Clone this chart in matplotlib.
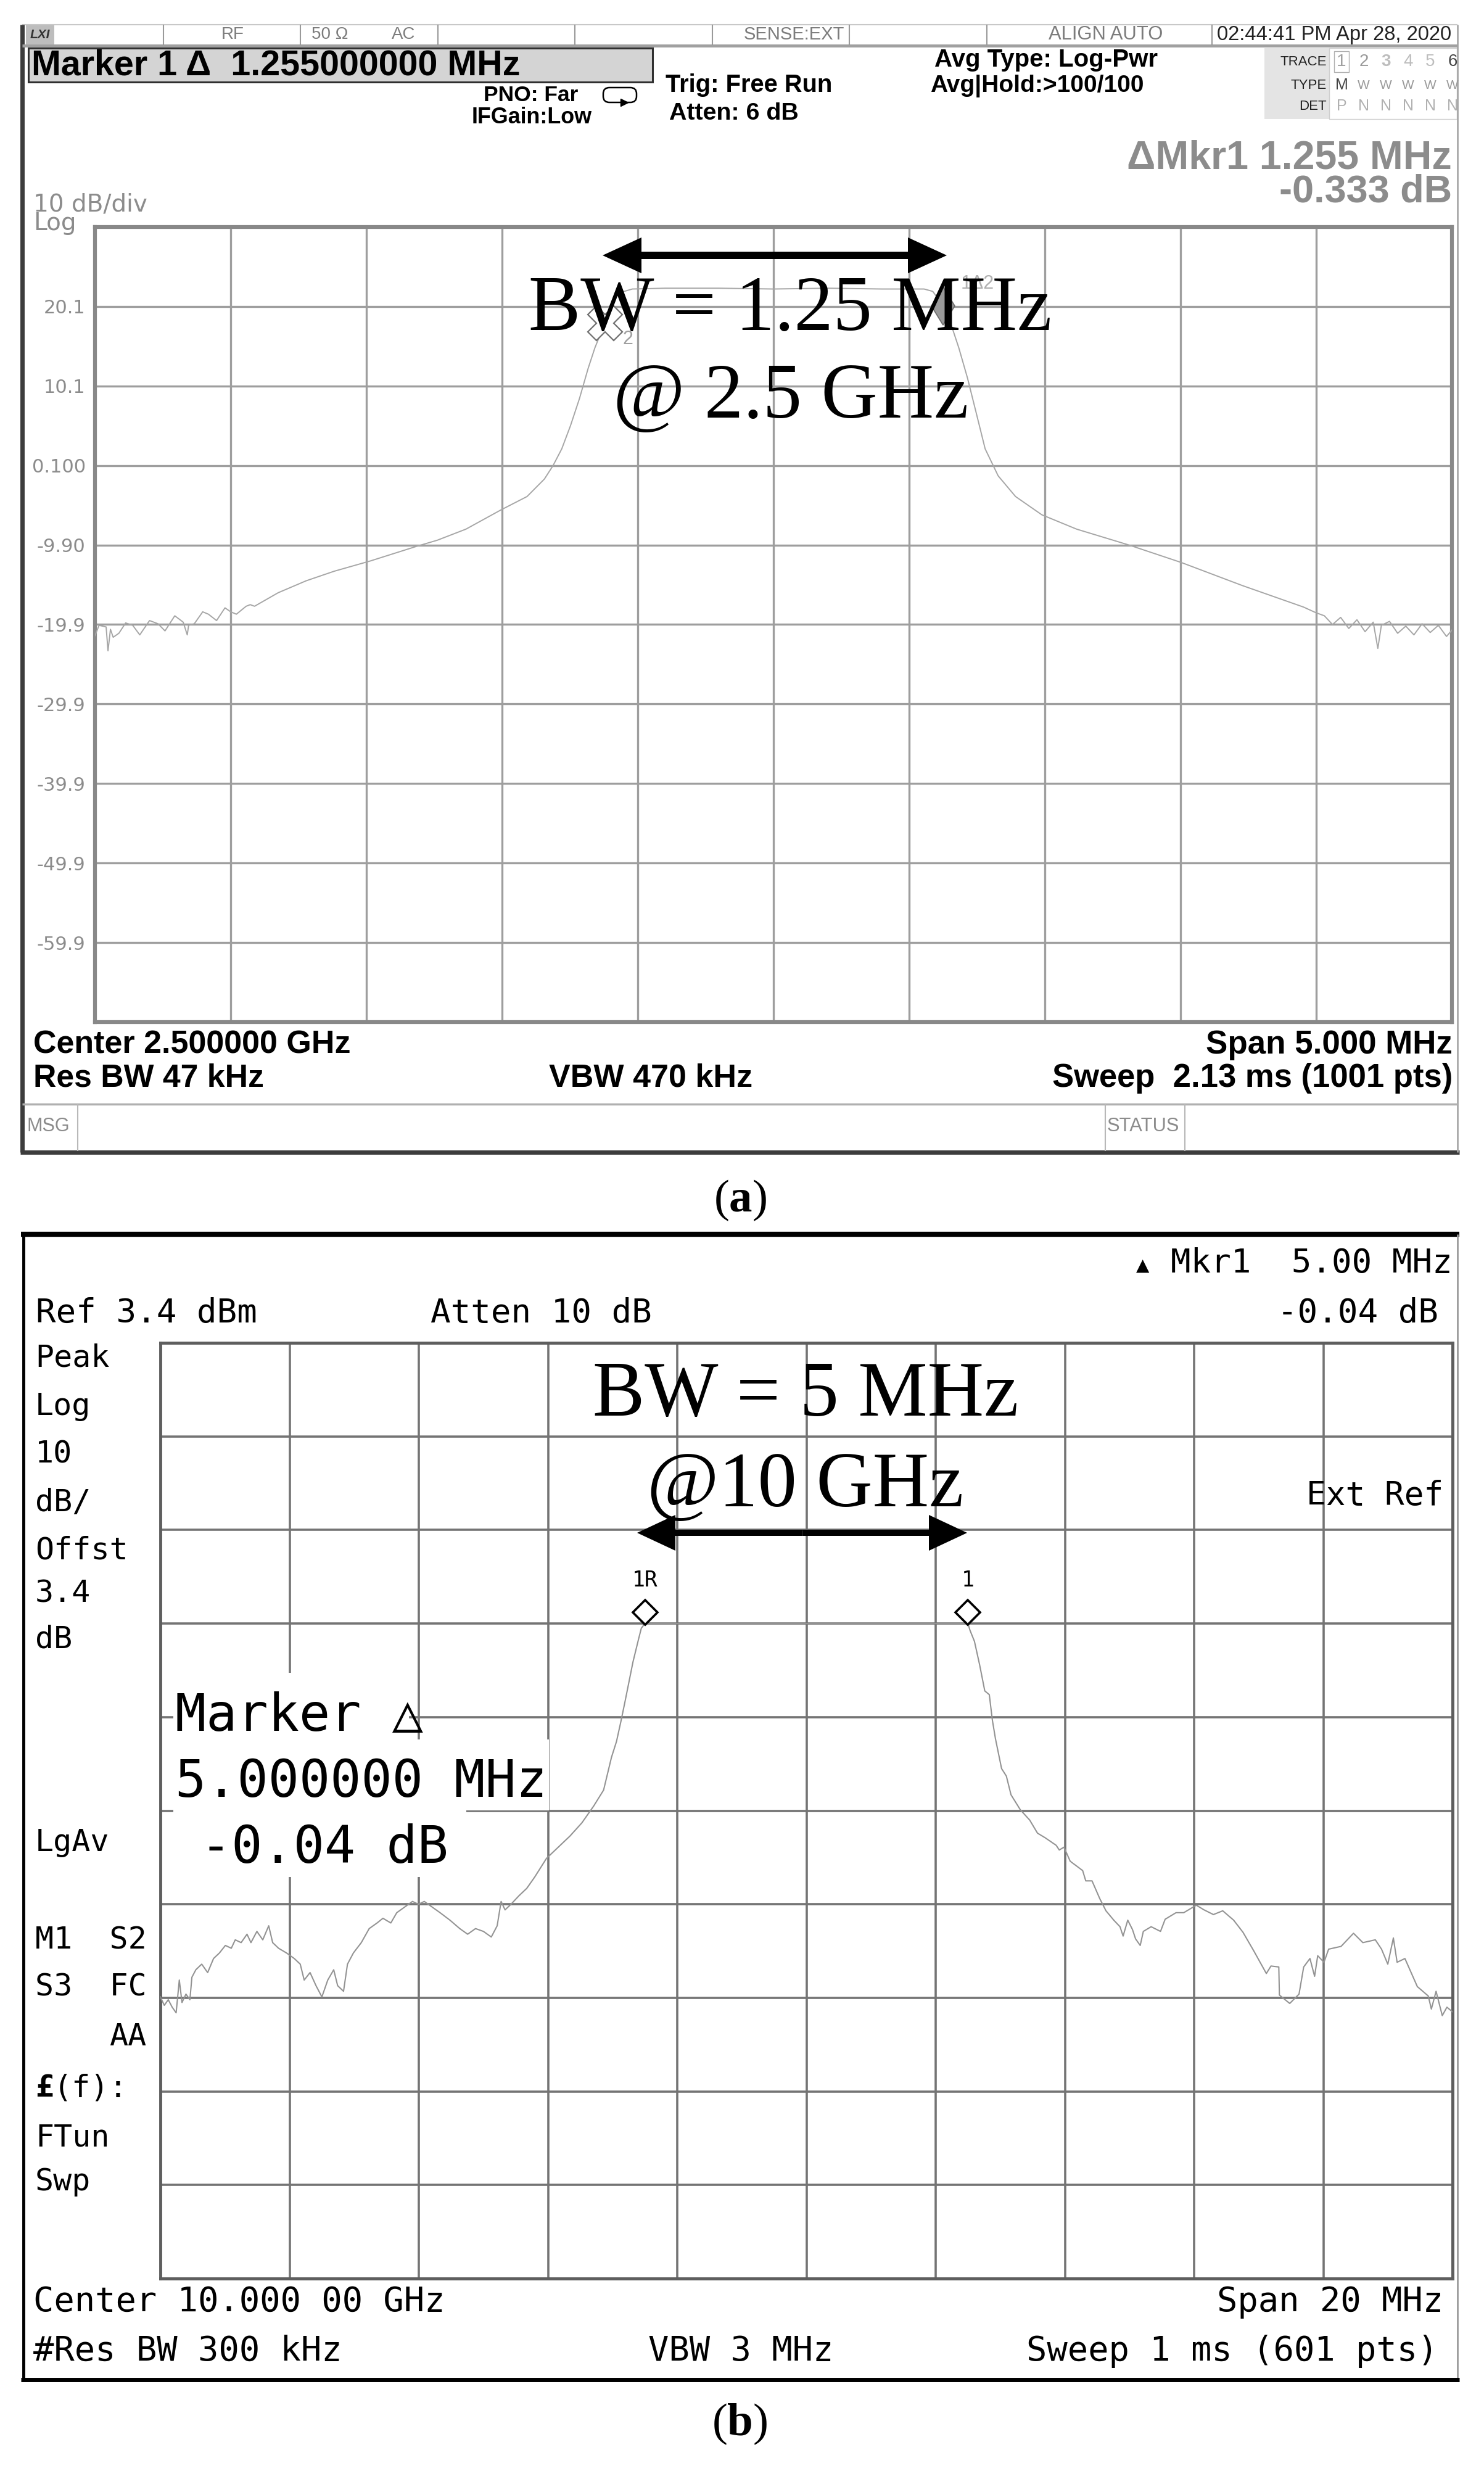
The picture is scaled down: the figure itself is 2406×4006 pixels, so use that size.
import matplotlib
matplotlib.use("Agg")
import matplotlib.pyplot as plt
from matplotlib.patches import Rectangle, FancyArrow, FancyBboxPatch
import numpy as np

W, H = 2406, 4006

SANS = ["Liberation Sans Narrow", "Liberation Sans", "DejaVu Sans"]
MONO = ["DejaVu Sans Mono", "DejaVu Sans"]
SERIF = ["Liberation Serif", "DejaVu Serif"]

plt.rcParams["mathtext.fontset"] = "custom"
plt.rcParams["mathtext.rm"] = "Liberation Serif"
plt.rcParams["mathtext.bf"] = "Liberation Serif:bold"

# ---- panel (a): 2.5 GHz carrier, span 5 MHz, 10 dB/div (offset from centre in MHz, level in dB)
freq_a = [
    -2.500, -2.485, -2.459, -2.452, -2.443, -2.433, -2.412, -2.387, -2.361, -2.335,
    -2.299, -2.268, -2.242, -2.206, -2.175, -2.160, -2.155, -2.134, -2.103, -2.082,
    -2.052, -2.021, -2.000, -1.979, -1.943, -1.928, -1.912, -1.825, -1.722, -1.619,
    -1.485, -1.309, -1.239, -1.133, -1.005, -0.908, -0.844, -0.812, -0.780, -0.748,
    -0.715, -0.683, -0.658, -0.619, -0.587, -0.560, -0.520, -0.400, -0.200, 0.000,
    0.200, 0.400, 0.520, 0.555, 0.587, 0.619, 0.651, 0.683, 0.715, 0.748,
    0.780, 0.828, 0.892, 0.989, 1.117, 1.310, 1.503, 1.728, 1.953, 1.998,
    2.030, 2.060, 2.090, 2.120, 2.150, 2.180, 2.210, 2.227, 2.240, 2.270,
    2.300, 2.330, 2.360, 2.390, 2.420, 2.450, 2.480, 2.500,
]
level_a = [
    -21.3, -20.0, -20.2, -23.2, -20.5, -21.5, -21.0, -19.7, -20.0, -21.2,
    -19.4, -19.8, -20.7, -18.8, -19.6, -21.2, -20.0, -19.8, -18.3, -18.6,
    -19.4, -17.8, -18.3, -18.6, -17.6, -17.4, -17.6, -15.9, -14.4, -13.2,
    -11.9, -10.0, -9.3, -7.9, -5.5, -3.8, -1.6, 0.1, 2.2, 5.1,
    8.5, 12.3, 14.9, 18.2, 21.2, 21.9, 22.3, 22.4, 22.4, 22.3,
    22.4, 22.3, 22.3, 22.3, 22.0, 20.5, 18.2, 14.9, 11.1, 6.6,
    2.2, -1.2, -3.8, -6.1, -7.9, -9.9, -12.1, -15.0, -17.7, -18.4,
    -18.8, -19.9, -19.0, -20.4, -19.3, -20.8, -19.6, -22.9, -20.0, -19.5,
    -21.0, -20.1, -21.2, -19.8, -20.9, -20.0, -21.4, -20.6,
]
mkr_a_freq = [-0.62, 0.625]
mkr_a_level = [18.0, 20.2]
ref_a = 30.1
ylab_a = ["20.1", "10.1", "0.100", "-9.90", "-19.9", "-29.9", "-39.9", "-49.9", "-59.9"]
trace_nums = ["1", "2", "3", "4", "5", "6"]
trace_types = ["M", "W", "W", "W", "W", "W"]
trace_dets = ["P", "N", "N", "N", "N", "N"]

# ---- panel (b): 10 GHz carrier, span 20 MHz, 10 dB/div, ref 3.4 dBm
freq_b = [
    -10.000, -9.939, -9.878, -9.817, -9.756, -9.707, -9.665, -9.604, -9.543, -9.512,
    -9.451, -9.360, -9.268, -9.177, -9.085, -8.994, -8.902, -8.841, -8.750, -8.659,
    -8.598, -8.506, -8.415, -8.323, -8.262, -8.171, -8.049, -7.927, -7.835, -7.774,
    -7.683, -7.591, -7.500, -7.409, -7.317, -7.256, -7.165, -7.104, -7.012, -6.890,
    -6.768, -6.646, -6.555, -6.433, -6.341, -6.220, -6.098, -6.006, -5.915, -5.793,
    -5.671, -5.518, -5.366, -5.244, -5.122, -5.000, -4.878, -4.787, -4.726, -4.665,
    -4.573, -4.451, -4.329, -4.207, -4.024, -3.841, -3.659, -3.476, -3.293, -3.140,
    -3.018, -2.940, -2.870, -2.810, -2.685, -2.600, -2.556, -2.500, -1.500, 0.000,
    1.500, 2.500, 2.530, 2.600, 2.680, 2.760, 2.830, 2.877, 2.925, 3.020,
    3.094, 3.166, 3.310, 3.455, 3.576, 3.696, 3.865, 3.913, 3.986, 4.082,
    4.275, 4.323, 4.420, 4.540, 4.636, 4.757, 4.853, 4.901, 4.973, 5.046,
    5.094, 5.166, 5.214, 5.335, 5.480, 5.552, 5.720, 5.840, 5.961, 6.034,
    6.154, 6.299, 6.443, 6.612, 6.757, 6.925, 7.118, 7.190, 7.311, 7.320,
    7.480, 7.624, 7.696, 7.793, 7.865, 7.913, 8.010, 8.082, 8.275, 8.467,
    8.612, 8.805, 8.901, 8.998, 9.084, 9.142, 9.263, 9.455, 9.624, 9.672,
    9.745, 9.841, 9.913, 10.000,
]
level_b = [
    -66.5, -67.4, -66.8, -67.6, -68.2, -64.7, -67.1, -66.2, -66.8, -64.4,
    -63.6, -63.0, -63.9, -62.4, -61.8, -61.0, -61.3, -60.4, -60.7, -59.8,
    -60.7, -59.5, -60.4, -58.9, -60.7, -61.3, -61.8, -62.4, -63.0, -64.7,
    -63.9, -65.3, -66.5, -64.7, -63.6, -65.3, -65.9, -63.0, -61.8, -60.7,
    -59.2, -58.6, -58.1, -58.6, -57.5, -56.9, -56.3, -56.6, -56.3, -56.9,
    -57.5, -58.3, -59.2, -59.8, -59.2, -59.5, -60.1, -58.9, -56.3, -57.2,
    -56.6, -55.7, -54.9, -53.7, -51.7, -50.5, -49.3, -47.9, -46.1, -44.4,
    -40.9, -39.2, -37.0, -35.0, -30.7, -28.3, -27.1, -26.6, -26.6, -26.6,
    -26.6, -26.6, -27.3, -28.5, -31.0, -33.8, -34.2, -36.9, -38.9, -42.1,
    -42.9, -44.9, -46.5, -47.6, -49.0, -49.5, -50.3, -50.8, -50.5, -52.0,
    -53.0, -54.1, -54.1, -56.0, -57.3, -58.3, -59.0, -60.0, -58.3, -59.3,
    -60.3, -61.0, -59.5, -59.0, -59.5, -58.2, -57.5, -57.5, -57.0, -56.7,
    -57.2, -57.7, -57.3, -58.3, -59.6, -61.6, -64.0, -63.2, -63.3, -66.3,
    -67.2, -66.2, -63.3, -62.4, -64.3, -62.1, -62.8, -61.4, -61.1, -59.7,
    -60.7, -60.4, -61.4, -63.0, -60.2, -62.8, -62.4, -65.4, -66.4, -67.8,
    -65.9, -68.5, -67.6, -68.1,
]
mkr_b_freq = [-2.5, 2.5]
mkr_b_level = [-25.4, -25.4]
mkr_b_names = ["1R", "1"]
ref_b = 3.4


fig = plt.figure(figsize=(W / 100, H / 100), dpi=100)
fig.patch.set_facecolor("white")
renderer = fig.canvas.get_renderer()


def px_axes(x0, y0, x1, y1, z=1):
    return fig.add_axes([x0 / W, 1 - y1 / H, (x1 - x0) / W, (y1 - y0) / H], zorder=z)


# ---------------- screen (a)
ax_a = px_axes(154, 368, 2354, 1657)
ax_a.plot(freq_a, level_a, color="#a6a6a6", lw=1.4, zorder=3)
ax_a.set_xlim(-2.5, 2.5)
ax_a.set_ylim(ref_a - 100, ref_a)
ax_a.set_xticks(np.linspace(-2.5, 2.5, 11))
ax_a.set_yticks([ref_a - 10 * k for k in range(11)])
ax_a.set_yticklabels([""] + ylab_a + [""])
ax_a.tick_params(length=0, labelbottom=False, pad=11, labelsize=22, labelcolor="#8c8c8c")
ax_a.grid(True, color="#9e9e9e", lw=2.4)
for s in ax_a.spines.values():
    s.set_color("#888888")
    s.set_linewidth(4.5)
ax_a.plot(mkr_a_freq[0], mkr_a_level[0], marker="X", ms=40, mfc="white", mec="#707070",
          mew=1.6, zorder=4)
ax_a.plot(mkr_a_freq[1], mkr_a_level[1], marker="d", ms=32, mfc="#9a9a9a", mec="#6a6a6a",
          mew=1.2, zorder=4)
ax_a.text(-0.555, 16.0, "2", color="#a0a0a0", fontsize=22, ha="left", va="center", family=SANS)
ax_a.text(0.69, 23.0, "1Δ2", color="#b0b0b0", fontsize=22, ha="left", va="center", family=SANS)

# ---------------- screen (b)
ax_b = px_axes(260, 2177, 2355, 3694)
ax_b.plot(freq_b, level_b, color="#939393", lw=1.5, zorder=3)
ax_b.set_xlim(-10, 10)
ax_b.set_ylim(ref_b - 100, ref_b)
ax_b.set_xticks(np.linspace(-10, 10, 11))
ax_b.set_yticks([ref_b - 10 * k for k in range(11)])
ax_b.tick_params(length=0, labelbottom=False, labelleft=False)
ax_b.grid(True, color="#747474", lw=2.6)
for s in ax_b.spines.values():
    s.set_color("#5e5e5e")
    s.set_linewidth(3.5)
ax_b.plot(mkr_b_freq, mkr_b_level, ls="none", marker="D", ms=20, mfc="white", mec="black",
          mew=2.6, zorder=4)
for f, n in zip(mkr_b_freq, mkr_b_names):
    ax_b.text(f, -22.0, n, fontsize=25, family=MONO, ha="center", va="center")

# ---------------- overlay in pixel coordinates for the instrument frames and texts
ov = px_axes(0, 0, W, H, z=5)
ov.set_xlim(0, W)
ov.set_ylim(H, 0)
ov.axis("off")
ov.patch.set_alpha(0)


def txt(x, y, s, size, color="black", ha="left", va="center", family=SANS, weight="normal",
        width=None, **kw):
    t = ov.text(x, y, s, fontsize=size, color=color, ha=ha, va=va, family=family,
                weight=weight, **kw)
    if width:
        w = t.get_window_extent(renderer).width
        t.set_fontsize(size * width / w)
    return t


def line(xs, ys, color, lw):
    ov.plot(xs, ys, color=color, lw=lw, solid_capstyle="butt")


# frame (a)
line([36, 2363], [40, 40], "#c8c8c8", 1.5)
line([36, 36], [40, 1868], "#3c3c3c", 5)
line([33, 2366], [1868, 1868], "#3c3c3c", 5)
line([2363, 2363], [40, 1868], "#a8a8a8", 2)
line([36, 2363], [74, 74], "#a0a0a0", 3.5)
for x in [265, 487, 710, 932, 1155, 1377, 1600, 1965]:
    line([x, x], [40, 73], "#9a9a9a", 1.5)
line([36, 2363], [1790, 1790], "#b0b0b0", 2.5)
for x in [126, 1792, 1921]:
    line([x, x], [1790, 1866], "#b8b8b8", 1.5)

GRAY_H = "#7c7c7c"
ov.add_patch(Rectangle((42, 40), 46, 32, fc="#bdbdbd", ec="none"))
txt(65, 56, "LXI", 15, "#333333", ha="center", weight="bold", style="italic")
txt(377, 56, "RF", 20, GRAY_H, ha="center")
txt(505, 56, "50 Ω", 20, GRAY_H)
txt(635, 56, "AC", 20, GRAY_H)
txt(1206, 56, "SENSE:EXT", 20, GRAY_H, width=163)
txt(1700, 56, "ALIGN AUTO", 20, GRAY_H, width=185)
txt(1973, 56, "02:44:41 PM Apr 28, 2020", 20, "#222222", width=381)

ov.add_patch(Rectangle((46, 78), 1012, 55, fc="#d4d4d4", ec="#303030", lw=2.2))
txt(51, 106, "Marker 1 Δ  1.255000000 MHz", 32, weight="bold", width=792)
txt(784, 154, "PNO: Far", 20, weight="bold", width=153)
txt(765, 191, "IFGain:Low", 20, weight="bold", width=195)
ov.add_patch(FancyBboxPatch((978, 142), 54, 24, boxstyle="round,pad=0,rounding_size=10",
                            fc="none", ec="black", lw=1.8))
ov.plot(1012, 166, marker=">", color="black", ms=8)
txt(1079, 138, "Trig: Free Run", 20, weight="bold", width=270)
txt(1085, 184, "Atten: 6 dB", 20, weight="bold", width=210)
txt(1515, 97, "Avg Type: Log-Pwr", 20, weight="bold", width=362)
txt(1508, 140, "Avg|Hold:>100/100", 20, weight="bold", width=346)

ov.add_patch(Rectangle((2050, 78), 105, 115, fc="#e4e4e4", ec="none"))
ov.add_patch(Rectangle((2155, 78), 207, 115, fc="white", ec="#cfcfcf", lw=1))
for y, lab in zip([100, 138, 172], ["TRACE", "TYPE", "DET"]):
    txt(2151, y, lab, 16, "#222222", ha="right")
num_colors = ["#a0a0a0", "#9a9a9a", "#bdbdbd", "#bdbdbd", "#bdbdbd", "#444444"]
for i in range(6):
    x = 2175 + 36 * i
    txt(x, 100, trace_nums[i], 20, num_colors[i], ha="center",
        weight="bold" if i == 2 else "normal")
    if i == 0:
        ov.add_patch(Rectangle((x - 12, 83), 24, 34, fc="none", ec="#b0b0b0", lw=1))
    txt(x, 138, trace_types[i], 15 if i else 18, "#444444" if i == 0 else "#9a9a9a",
        ha="center")
    txt(x, 172, trace_dets[i], 18, "#b0b0b0", ha="center")

txt(2354, 256, "ΔMkr1 1.255 MHz", 34, "#8c8c8c", ha="right", weight="bold", width=527)
txt(2354, 311, "-0.333 dB", 34, "#8c8c8c", ha="right", weight="bold", width=281)
txt(54, 331, "10 dB/div", 28, "#8c8c8c", family=["DejaVu Sans"])
txt(54, 362, "Log", 28, "#8c8c8c", family=["DejaVu Sans"])

txt(54, 1694, "Center 2.500000 GHz", 30, weight="bold", width=514)
txt(54, 1748, "Res BW 47 kHz", 30, weight="bold", width=373)
txt(890, 1748, "VBW 470 kHz", 30, weight="bold", width=330)
txt(2355, 1694, "Span 5.000 MHz", 30, ha="right", weight="bold", width=399)
txt(2355, 1748, "Sweep  2.13 ms (1001 pts)", 30, ha="right", weight="bold", width=649)
txt(43, 1826, "MSG", 16, "#8c8c8c", width=70)
txt(1795, 1826, "STATUS", 16, "#8c8c8c", width=118)

ov.text(1281, 535, "BW = 1.25 MHz", fontsize=91, family=SERIF, ha="center", va="baseline")
ov.text(1282, 677, "@ 2.5 GHz", fontsize=91, family=SERIF, ha="center", va="baseline")
for d in (-1, 1):
    ov.add_patch(FancyArrow(1256, 414, d * 279, 0, width=12, head_width=58, head_length=63,
                            length_includes_head=True, color="black", lw=0))
ov.text(1200, 1946, r"($\mathbf{a}$)", fontsize=54, family=SERIF, ha="center", va="center")

# frame (b)
line([34, 2366], [2001, 2001], "black", 6)
line([38, 38], [2001, 3858], "black", 3.5)
line([2363, 2363], [2001, 3858], "#9a9a9a", 2)
line([34, 2366], [3858, 3858], "black", 5)

txt(1853, 2052, "▲", 20, ha="center", family=["DejaVu Sans"])
txt(2355, 2048, "Mkr1  5.00 MHz", 39, ha="right", family=MONO)
txt(58, 2129, "Ref 3.4 dBm", 39, family=MONO)
txt(698, 2129, "Atten 10 dB", 39, family=MONO)
txt(2332, 2129, "-0.04 dB", 39, ha="right", family=MONO)
txt(2118, 2425, "Ext Ref", 38, family=MONO)

left_col = [("Peak", 2201), ("Log", 2280), ("10", 2357), ("dB/", 2436), ("Offst", 2514),
            ("3.4", 2583), ("dB", 2657), ("LgAv", 2987), ("M1  S2", 3146), ("S3  FC", 3222),
            ("FTun", 3465), ("Swp", 3537)]
for s, y in left_col:
    txt(57, y, s, 36, family=MONO)
txt(177, 3302, "AA", 36, family=MONO)
txt(57, 3385, "£", 36, family=MONO, weight="bold")
txt(87, 3385, "(f):", 36, family=MONO)

# marker readout box, white behind the text lines
for x0, y0, x1, y1 in [(281, 2712, 663, 2820), (281, 2820, 890, 2935), (281, 2935, 756, 3043)]:
    ov.add_patch(Rectangle((x0, y0), x1 - x0, y1 - y0, fc="white", ec="none"))
txt(284, 2806, "Marker △", 60, va="baseline", family=MONO)
txt(284, 2913, "5.000000 MHz", 60, va="baseline", family=MONO)
txt(325, 3020, "-0.04 dB", 60, va="baseline", family=MONO)

txt(54, 3732, "Center 10.000 00 GHz", 40, family=MONO)
txt(2340, 3732, "Span 20 MHz", 40, ha="right", family=MONO)
txt(54, 3812, "#Res BW 300 kHz", 40, family=MONO)
txt(1051, 3812, "VBW 3 MHz", 40, family=MONO)
txt(2332, 3812, "Sweep 1 ms (601 pts)", 40, ha="right", family=MONO)

ov.text(1306, 2295, "BW = 5 MHz", fontsize=91, family=SERIF, ha="center", va="baseline")
ov.text(1306, 2442, "@10 GHz", fontsize=91, family=SERIF, ha="center", va="baseline")
for d in (-1, 1):
    ov.add_patch(FancyArrow(1300.5, 2485, d * 267.5, 0, width=10, head_width=58,
                            head_length=62, length_includes_head=True, color="black", lw=0))
ov.text(1199, 3930, r"($\mathbf{b}$)", fontsize=54, family=SERIF, ha="center", va="center")

plt.savefig("out.png", dpi=100, facecolor="white")
